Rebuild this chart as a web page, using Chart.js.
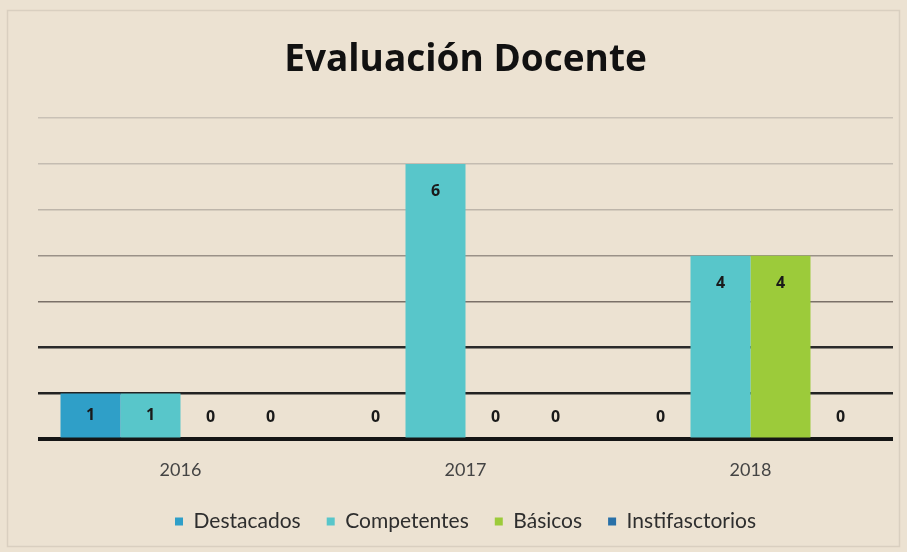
<!DOCTYPE html>
<html>
<head>
<meta charset="utf-8">
<script src="https://cdn.jsdelivr.net/npm/chart.js@4.4.1/dist/chart.umd.min.js"></script>
<style>
  html, body { margin: 0; padding: 0; background: #ece2d2; }
  #wrap { width: 907px; height: 552px; position: relative; }
</style>
</head>
<body>
<div id="wrap"><canvas id="myChart" width="907" height="552"></canvas></div>
<script>
// chart data
var years = ['2016', '2017', '2018'];
var destacados = [1, 0, 0];
var competentes = [1, 6, 4];
var basicos = [0, 0, 4];
var instifasctorios = [0, 0, 0];
var yTicks = [0, 1, 2, 3, 4, 5, 6, 7];

var colors = ['#2f9fc8', '#58c6ca', '#9ccb3a', '#2870a8'];
// photo makes the lower lines look darker
var gridColors = ['#151515', '#222', '#2a2a2a', '#7a7068', '#9a9188', '#bdb5aa', '#c4bcb1', '#c9c1b6'];

// draws value labels near bar ends (no datalabels plugin here)
var valueLabels = {
    id: 'valueLabels',
    afterDatasetsDraw: function(chart) {
        var ctx = chart.ctx;
        ctx.save();
        ctx.font = 'bold 16px "Open Sans", sans-serif';
        ctx.fillStyle = '#1a1a1a';
        ctx.textAlign = 'center';
        ctx.textBaseline = 'middle';
        chart.data.datasets.forEach(function(ds, i) {
            var meta = chart.getDatasetMeta(i);
            meta.data.forEach(function(bar, j) {
                var v = ds.data[j];
                var y = v > 0 ? bar.y + Math.min(28, (bar.base - bar.y) / 2) : bar.base - 22;
                ctx.fillText(String(v), bar.x, y);
            });
        });
        ctx.restore();
    }
};

// faint frame of the original picture
var frame = {
    id: 'frame',
    beforeDraw: function(chart) {
        var ctx = chart.ctx;
        ctx.save();
        ctx.strokeStyle = '#d9cfc0';
        ctx.lineWidth = 1.5;
        ctx.strokeRect(7.5, 10.5, 892, 536);
        ctx.restore();
    }
};

var ctx = document.getElementById('myChart').getContext('2d');
var chart = new Chart(ctx, {
    type: 'bar',
    data: {
        labels: years,
        datasets: [
            { label: 'Destacados', data: destacados, backgroundColor: colors[0] },
            { label: 'Competentes', data: competentes, backgroundColor: colors[1] },
            { label: 'Básicos', data: basicos, backgroundColor: colors[2] },
            { label: 'Instifasctorios', data: instifasctorios, backgroundColor: colors[3] }
        ]
    },
    options: {
        responsive: false,
        animation: false,
        datasets: { bar: { barPercentage: 1, categoryPercentage: 0.842 } },
        layout: { padding: { left: 38, right: 14, top: 10, bottom: 10 } },
        plugins: {
            title: {
                display: true,
                text: 'Evaluación Docente',
                color: '#111',
                font: { family: 'Open Sans', size: 37, weight: 'bold' },
                padding: { top: 27.8, bottom: 35.8 }
            },
            legend: {
                position: 'bottom',
                labels: {
                    color: '#2e2e2e',
                    font: { family: 'Lato', size: 21 },
                    boxWidth: 8,
                    boxHeight: 8,
                    padding: 26
                }
            },
            tooltip: { enabled: false }
        },
        scales: {
            x: {
                grid: { display: false, tickLength: 16.4 },
                border: { display: false },
                ticks: { color: '#444', font: { family: 'Lato', size: 18 }, padding: 3.8 }
            },
            y: {
                min: 0,
                max: yTicks[yTicks.length - 1],
                afterBuildTicks: function(axis) {
                    axis.ticks = yTicks.map(function(v) { return { value: v }; });
                },
                ticks: { display: false },
                border: { display: false },
                grid: {
                    drawTicks: false,
                    color: function(c) { return gridColors[c.index] || '#ccc'; },
                    lineWidth: function(c) { return c.index === 0 ? 4 : (c.index < 3 ? 2.5 : 1.5); }
                }
            }
        }
    },
    plugins: [frame, valueLabels]
});
</script>
</body>
</html>
